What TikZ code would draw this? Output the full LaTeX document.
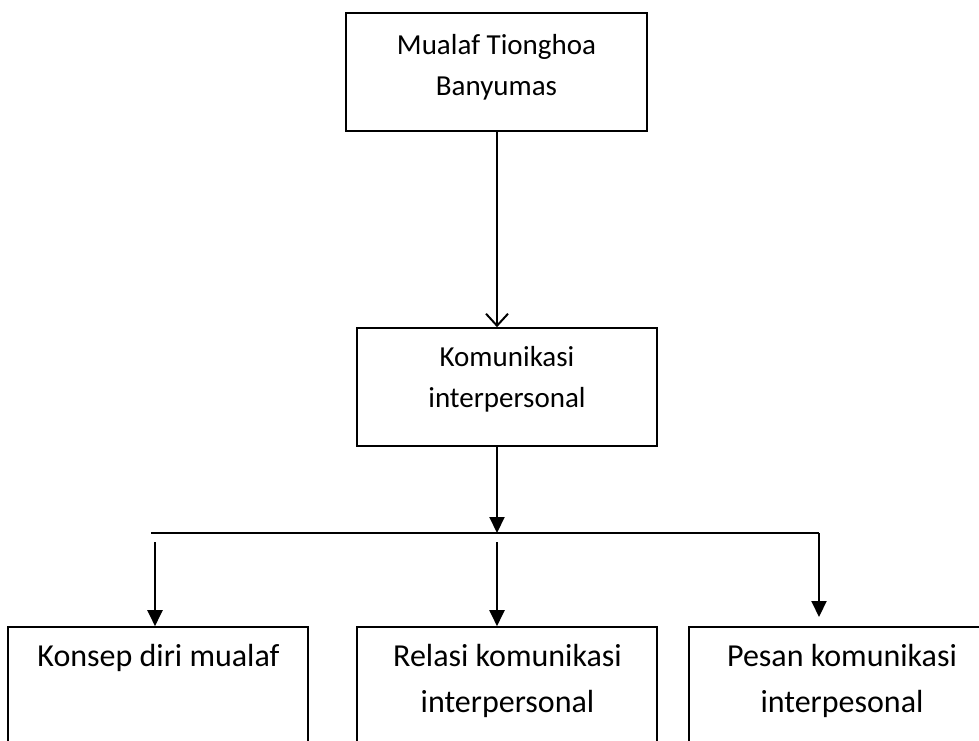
\documentclass[tikz,border=0pt]{standalone}
\usepackage{fontspec}
\setmainfont{Carlito}
\usetikzlibrary{arrows.meta,calc}
\begin{document}
\begin{tikzpicture}[x=1pt,y=-1pt,
  box/.style={draw=black,line width=1.6pt,inner sep=0pt,minimum width=#1,minimum height=118pt},
  obox/.style={draw=black,line width=1.6pt,inner sep=0pt,minimum width=#1,minimum height=140pt},
  lbl/.style={font=\fontsize{29}{41}\selectfont,align=center,inner sep=0pt,anchor=north},
  blbl/.style={font=\fontsize{32}{46}\selectfont,align=center,inner sep=0pt,anchor=north},
  conn/.style={line width=2pt},
  openarr/.style={line width=2pt,-{Straight Barb[length=12pt,width=22pt,line width=2pt]}},
  fillarr/.style={line width=2pt,-{Triangle[length=16pt,width=15pt]}}]
\clip (0,0) rectangle (979,740);
\fill[white] (0,0) rectangle (979,740);
% boxes
\node[box=301pt] (top) at (496.5,72) {};
\node[box=300pt] (mid) at (507,387) {};
\node[obox=300pt] (b1) at (158,697) {};
\node[obox=300pt] (b2) at (507,697) {};
\node[obox=306pt] (b3) at (842,697) {};
% texts
\node[lbl] (ttop) at (496.5,34) {Mualaf Tionghoa\\Banyumas};
\node[lbl] (tmid) at (507,346) {Komunikasi\\interpersonal};
\node[blbl] (tb1) at (158.5,644) {Konsep diri mualaf};
\node[blbl] (tb2) at (507.5,644) {Relasi komunikasi\\interpersonal};
\node[blbl] (tb3) at (842,644) {Pesan komunikasi\\interpesonal};
% connectors
\coordinate (j) at (497,533);
\coordinate (hl) at (151,533);
\coordinate (hr) at (819,533);
\coordinate (s1) at (155,542);
\coordinate (s2) at (497,542);
\coordinate (e3) at (819,617);
\draw[openarr] (top.south -| j) -- (mid.north -| j);
\draw[fillarr] (mid.south -| j) -- (j);
\draw[conn] (hl) -- (hr);
\draw[fillarr] (hr) -- (e3);
\draw[fillarr] (s1) -- (b1.north -| s1);
\draw[fillarr] (s2) -- (b2.north -| s2);
\end{tikzpicture}
\end{document}
